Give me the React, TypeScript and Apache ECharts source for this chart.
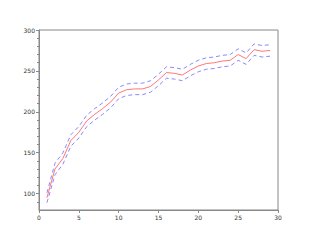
import React, { useEffect, useRef } from "react";
import * as echarts from "echarts";

const xs = [1,2,3,4,5,6,7,8,9,10,11,12,13,14,15,16,17,18,19,20,21,22,23,24,25,26,27,28,29];
const mean = [95,130,143,165,175,189,197,204,212,223,227,228,228,231,239,248,247,245,251,256,259,260,262,263,270,265,276,274,275];
const upper = [101,137,150,172,182,196,204,211,219,230,234,235,235,238,246,255,254,252,258,263,266,267,269,270,277,272,283,281,282];
const lower = [89,123,136,158,168,182,190,197,205,216,220,221,221,224,232,241,240,238,244,249,252,253,255,256,263,258,269,267,268];
const yMajor = [100,150,200,250,300];
const yMinor = [90,110,120,130,140,160,170,180,190,210,220,230,240,260,270,280,290];

export default function App() {
  const ref = useRef<HTMLDivElement>(null);
  useEffect(() => {
    const chart = echarts.init(ref.current!, null, { renderer: "svg" });
    const pairs = (ys: number[]) => xs.map((x, i) => [x, ys[i]]);
    const axisColor = "#888";
    const font = { fontSize: 6, color: "#333", fontFamily: "DejaVu Sans" };
    chart.setOption({
      animation: false,
      grid: { left: 39, right: 40, top: 30, bottom: 30, show: true, borderColor: axisColor, borderWidth: 1 },
      xAxis: {
        type: "value", min: 0, max: 30, interval: 5,
        axisLine: { show: true, lineStyle: { color: axisColor } },
        axisTick: { show: true, length: 3, lineStyle: { color: axisColor } },
        axisLabel: { ...font, margin: 4 },
        splitLine: { show: false },
      },
      yAxis: [
        {
          type: "value", min: 80, max: 300,
          axisLine: { show: true, lineStyle: { color: axisColor } },
          axisTick: { show: true, length: 3, customValues: yMajor, lineStyle: { color: axisColor } },
          axisLabel: { ...font, margin: 4, customValues: yMajor },
          splitLine: { show: false },
        },
        {
          type: "value", min: 80, max: 300, position: "left",
          axisLine: { show: false },
          axisTick: { show: true, length: 2, customValues: yMinor, lineStyle: { color: axisColor } },
          axisLabel: { show: false },
          splitLine: { show: false },
        },
      ],
      series: [
        { type: "line", data: pairs(upper), showSymbol: false, symbol: "none", lineStyle: { color: "#8888ff", width: 1, type: [4, 3] } },
        { type: "line", data: pairs(lower), showSymbol: false, symbol: "none", lineStyle: { color: "#8888ff", width: 1, type: [4, 3] } },
        { type: "line", data: pairs(mean), showSymbol: false, symbol: "none", lineStyle: { color: "#ff7777", width: 1 } },
      ],
    });
    return () => chart.dispose();
  }, []);
  return <div ref={ref} style={{ position: "absolute", left: 0, top: 0, width: 318, height: 240, background: "#fff" }} />;
}
